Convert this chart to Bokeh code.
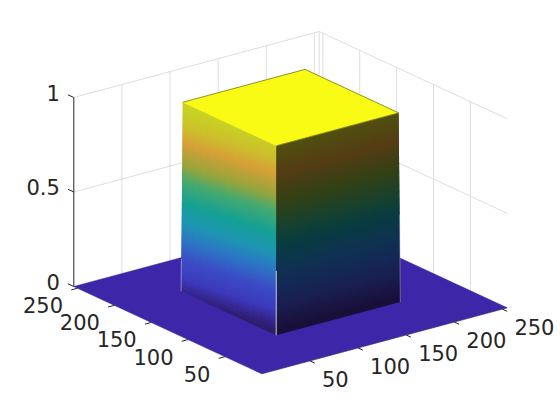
import numpy as np
from bokeh.plotting import figure
from bokeh.embed import file_html
from bokeh.resources import INLINE
from bokeh.core.properties import value

# --- chart data ---
x_ticks = [50, 100, 150, 200, 250]
y_ticks = [50, 100, 150, 200, 250]
z_ticks = [0, 0.5, 1]
z_tick_labels = ["0", "0.5", "1"]
xy_limit = 255
box_top_lo, box_top_hi = 65, 192      # plateau extent (height 1)
box_base_lo, box_base_hi = 64, 193    # where the walls meet the floor (height 0)

# colours of the lit faces
floor_color = "#3E26A8"
top_color = "#F9FB14"
left_stops = [0.0, 0.05, 0.1, 0.2, 0.3, 0.4, 0.5, 0.62, 0.7, 0.82, 0.9, 1.0]
left_rgb = [(45, 30, 110), (55, 40, 150), (60, 58, 188), (60, 75, 197), (45, 115, 197), (30, 150, 178),
            (20, 160, 150), (70, 170, 110), (150, 165, 60), (215, 160, 55), (205, 190, 45), (200, 210, 35)]
right_stops = [0.0, 0.05, 0.15, 0.25, 0.35, 0.47, 0.55, 0.7, 0.85, 1.0]
right_rgb = [(25, 15, 55), (25, 18, 62), (25, 30, 80), (20, 40, 85), (15, 50, 80), (8, 60, 65),
             (20, 65, 50), (50, 65, 20), (85, 60, 20), (80, 80, 15)]

# --- 3D view ---
O = np.array([261.3, 373.3])
EX = np.array([245.4, -66.0]) / 255
EY = np.array([-188.0, -87.3]) / 255
EZ = np.array([0.0, -189.0])

def proj(x, y, z):
    return (O[0] + EX[0] * x + EY[0] * y + EZ[0] * z,
            O[1] + EX[1] * x + EY[1] * y + EZ[1] * z)

def hexc(stops, rgb, t):
    t = float(np.clip(t, 0, 1))
    c = [int(round(np.interp(t, stops, [v[i] for v in rgb]))) for i in range(3)]
    return "#%02x%02x%02x" % tuple(c)

def wall(a0, a1, b0, b1, f_top, f_base, rows, cols, stops, rgb, tilt):
    """overlapping quads between the base path and the top path of one wall"""
    quads, cs = [], []
    for j in range(rows):
        z0, z1 = j / rows, min(1.0, (j + 2) / rows)
        zm = (j + 0.5) / rows
        for i in range(cols):
            u0, u1 = i / cols, min(1.0, (i + 2) / cols)
            um = (i + 0.5) / cols
            pts = []
            for u, z in ((u0, z0), (u1, z0), (u1, z1), (u0, z1)):
                s = (a0 + (a1 - a0) * u) * (1 - z) + (b0 + (b1 - b0) * u) * z
                f = f_base * (1 - z) + f_top * z
                pts.append((s, f, z))
            quads.append(pts)
            cs.append(hexc(stops, rgb, zm + tilt * (0.5 - um)))
    return quads, cs

p = figure(width=560, height=420, x_range=(0, 560), y_range=(420, 0),
           output_backend="svg", toolbar_location=None, min_border=0,
           background_fill_color="white", border_fill_color="white", outline_line_color=None)
p.axis.visible = False
p.grid.visible = False

GRID = "#dedede"
TICK = "#262626"

def seg(a, b, color, width=1, alpha=1.0):
    xa, ya = proj(*a)
    xb, yb = proj(*b)
    p.line([xa, xb], [ya, yb], line_color=color, line_width=width, line_alpha=alpha)

# back-wall grid
L = xy_limit
for t in x_ticks:
    seg((t, L, 0), (t, L, 1), GRID)
for t in y_ticks:
    seg((L, t, 0), (L, t, 1), GRID)
for z in z_ticks[1:]:
    seg((0, L, z), (L, L, z), GRID)
    seg((L, 0, z), (L, L, z), GRID)
seg((L, L, 0), (L, L, 1), GRID)

# z axis line
seg((0, L, 0), (0, L, 1), TICK, 1)

# floor
fx, fy = proj(np.array([0, L, L, 0], float), np.array([0, 0, L, L], float), np.zeros(4))
p.patch(list(fx), list(fy), fill_color=floor_color, line_color=floor_color, line_width=0.5)

# floor edges (axis lines)
seg((0, 0, 0), (L, 0, 0), TICK, 0.6, 0.55)
seg((0, 0, 0), (0, L, 0), TICK, 0.6, 0.25)

# ticks
for t in x_ticks:
    x0, y0 = proj(t, 0, 0)
    x1, y1 = proj(t, -6.5, 0)
    p.line([x0, x1], [y0, y1], line_color=TICK, line_width=1)
for t in y_ticks:
    x0, y0 = proj(0, t, 0)
    x1, y1 = proj(-6.5, t, 0)
    p.line([x0, x1], [y0, y1], line_color=TICK, line_width=1)
for z in z_ticks:
    x0, y0 = proj(0, L, z)
    x1, y1 = proj(0, L + 8, z)
    p.line([x0, x1], [y0, y1], line_color=TICK, line_width=1)

# box: left face spans y from high to low at x = low
quads, wc = wall(box_base_hi, box_base_lo, box_top_hi, box_top_lo, box_top_lo, box_base_lo,
                 56, 12, left_stops, left_rgb, 0.07)
qx, qy = [], []
for quad in quads:
    sx, sy = zip(*[proj(f, s, z) for s, f, z in quad])
    qx.append(list(sx)); qy.append(list(sy))
p.patches(qx, qy, fill_color=wc, line_color=None)

# right face spans x from low to high at y = low
quads, wc = wall(box_base_lo, box_base_hi, box_top_lo, box_top_hi, box_top_lo, box_base_lo,
                 64, 1, right_stops, right_rgb, 0.0)
qx, qy = [], []
for quad in quads:
    sx, sy = zip(*[proj(s, f, z) for s, f, z in quad])
    qx.append(list(sx)); qy.append(list(sy))
p.patches(qx, qy, fill_color=wc, line_color=None)

# top
tx, ty = proj(np.array([box_top_lo, box_top_hi, box_top_hi, box_top_lo], float),
              np.array([box_top_lo, box_top_lo, box_top_hi, box_top_hi], float), np.ones(4))
p.patch(list(tx), list(ty), fill_color=top_color, line_color=top_color, line_width=0.5)
# dark rim on the far edges and the front-right edge of the plateau
for a, b in (((box_top_lo, box_top_hi), (box_top_hi, box_top_hi)),
             ((box_top_hi, box_top_lo), (box_top_hi, box_top_hi)),
             ((box_top_lo, box_top_lo), (box_top_hi, box_top_lo))):
    seg((a[0], a[1], 1), (b[0], b[1], 1), "#555530", 0.8, 0.8)

# light rims on the lower part of the vertical edges
for (bx, by), (tx_, ty_), frac, col, al in (
        ((box_base_lo, box_base_hi), (box_top_lo, box_top_hi), 0.17, "#d0d0e8", 0.55),
        ((box_base_lo, box_base_lo), (box_top_lo, box_top_lo), 0.34, "#f0f0ff", 0.8),
        ((box_base_hi, box_base_lo), (box_top_hi, box_top_lo), 0.46, "#a0a8b0", 0.55)):
    seg((bx, by, 0), (bx + (tx_ - bx) * frac, by + (ty_ - by) * frac, frac), col, 1, al)

# labels
FONT = value("DejaVu Sans")
SIZE = value("21px")
for t in x_ticks:
    x0, y0 = proj(t, 0, 0)
    p.text([x0 + 12], [y0 + 18], text=[str(t)], text_font=FONT, text_font_size=SIZE,
           text_color=TICK, text_align="left", text_baseline="middle")
for t in y_ticks:
    x0, y0 = proj(0, t, 0)
    p.text([x0 - 14.5], [y0 + 17], text=[str(t)], text_font=FONT, text_font_size=SIZE,
           text_color=TICK, text_align="right", text_baseline="middle")
for z, lab in zip(z_ticks, z_tick_labels):
    x0, y0 = proj(0, L, z)
    p.text([x0 - 14], [y0 - 5], text=[lab], text_font=FONT, text_font_size=SIZE,
           text_color=TICK, text_align="right", text_baseline="middle")

open("out.html", "w").write(file_html(p, INLINE))
